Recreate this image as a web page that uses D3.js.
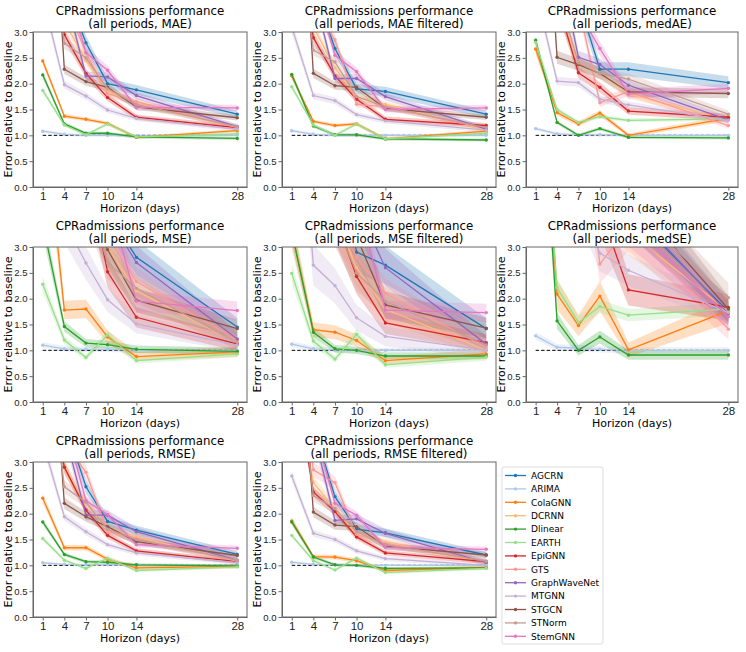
<!DOCTYPE html>
<meta charset="utf-8">
<script src="https://d3js.org/d3.v7.min.js"></script>
<style>
body { margin: 0; background: #fff; }
svg { font-family: "DejaVu Sans", sans-serif; }
.axis path, .axis line { stroke: #666; }
.axis text { fill: #222; }
</style>
<body>
<div id="chart"></div>
<script>

var horizons = [1, 4, 7, 10, 14, 28];
var models = ["AGCRN", "ARIMA", "ColaGNN", "DCRNN", "Dlinear", "EARTH", "EpiGNN",
              "GTS", "GraphWaveNet", "MTGNN", "STGCN", "STNorm", "StemGNN"];
var metrics = ["MAE", "MAE filtered", "medAE", "MSE", "MSE filtered", "medSE", "RMSE", "RMSE filtered"];
var yTicks = [0, 0.5, 1, 1.5, 2, 2.5, 3];

// valeurs par modele (meme ordre que models), une ligne par horizon
var maeVals = [
  [6.0, 3.9, 2.79, 2.00, 1.88, 1.41],
  [1.08, 1.02, 1.00, 1.00, 0.99, 1.00],
  [2.44, 1.37, 1.31, 1.23, 0.96, 1.09],
  [5.0, 3.2, 2.45, 1.85, 1.62, 1.15],
  [2.17, 1.22, 1.04, 1.04, 0.97, 0.94],
  [1.87, 1.20, 1.01, 1.22, 0.97, 1.03],
  [5.5, 2.95, 2.20, 1.73, 1.35, 1.15],
  [6.0, 3.6, 2.60, 1.80, 1.65, 1.15],
  [6.0, 3.8, 2.15, 2.13, 1.77, 1.17],
  [3.68, 1.98, 1.76, 1.49, 1.33, 1.12],
  [9.0, 2.28, 2.04, 1.93, 1.55, 1.34],
  [6.0, 2.78, 2.50, 1.90, 1.60, 1.17],
  [6.0, 4.0, 2.60, 2.26, 1.54, 1.53]
];
var maeFiltVals = [
  [6.0, 3.9, 2.68, 1.90, 1.85, 1.41],
  [1.09, 1.02, 1.00, 1.00, 1.00, 1.00],
  [2.15, 1.27, 1.19, 1.22, 0.93, 1.08],
  [5.0, 3.1, 2.30, 1.75, 1.60, 1.10],
  [2.18, 1.18, 1.01, 1.01, 0.93, 0.91],
  [1.94, 1.20, 1.00, 1.22, 0.93, 1.04],
  [5.5, 2.89, 2.15, 1.70, 1.31, 1.19],
  [6.0, 3.5, 2.85, 1.60, 1.55, 1.13],
  [6.0, 3.8, 2.10, 2.10, 1.75, 1.12],
  [3.1, 1.77, 1.67, 1.40, 1.28, 1.10],
  [9.0, 2.20, 1.96, 1.93, 1.52, 1.35],
  [6.0, 2.65, 2.42, 1.75, 1.55, 1.15],
  [6.0, 4.0, 2.55, 2.23, 1.50, 1.53]
];
var medaeVals = [
  [8.0, 5.0, 3.6, 2.28, 2.28, 2.02],
  [1.13, 1.03, 1.01, 1.01, 1.00, 1.00],
  [2.67, 1.44, 1.22, 1.43, 1.00, 1.33],
  [6.0, 3.5, 2.40, 2.20, 1.80, 1.30],
  [2.84, 1.25, 1.00, 1.13, 0.96, 0.95],
  [2.80, 1.50, 1.25, 1.36, 1.29, 1.32],
  [6.0, 3.6, 2.21, 1.93, 1.47, 1.35],
  [6.0, 4.5, 3.5, 1.63, 1.85, 1.19],
  [7.0, 4.5, 2.51, 2.37, 1.97, 1.30],
  [3.8, 2.05, 2.02, 1.70, 1.59, 1.29],
  [9.0, 2.51, 2.37, 2.20, 1.84, 1.81],
  [7.0, 3.8, 2.40, 2.20, 2.09, 1.41],
  [7.0, 5.0, 3.4, 2.68, 1.80, 1.91]
];
var mseVals = [
  [15, 8, 5, 3.69, 2.80, 1.45],
  [1.10, 1.03, 1.02, 1.02, 1.00, 1.00],
  [5.8, 1.78, 1.80, 1.26, 0.88, 0.97],
  [12, 6, 4, 3.0, 2.15, 1.15],
  [3.46, 1.46, 1.14, 1.11, 1.02, 0.98],
  [2.28, 1.20, 0.86, 1.30, 0.80, 0.93],
  [12, 6, 4.58, 2.52, 1.64, 1.12],
  [12, 6, 4.0, 3.2, 2.33, 1.20],
  [15, 8, 5, 3.6, 2.70, 1.22],
  [6, 3.5, 2.69, 1.98, 1.51, 1.10],
  [15, 6, 4.0, 2.95, 1.97, 1.42],
  [12, 6, 4.0, 2.70, 2.20, 1.15],
  [15, 8, 5, 4.0, 1.95, 1.77]
];
var mseFiltVals = [
  [15, 8, 5, 2.90, 2.65, 1.42],
  [1.12, 1.03, 1.01, 1.00, 1.00, 1.00],
  [3.3, 1.40, 1.35, 1.19, 0.80, 0.93],
  [10, 5, 3.6, 2.6, 1.80, 1.00],
  [3.3, 1.35, 1.03, 1.00, 0.89, 0.89],
  [2.49, 1.18, 0.83, 1.31, 0.72, 0.87],
  [10, 5, 3.6, 2.43, 1.53, 1.15],
  [10, 5, 3.6, 2.8, 2.10, 1.05],
  [15, 8, 5, 3.8, 2.60, 1.12],
  [8, 2.65, 2.25, 1.63, 1.27, 1.00],
  [12, 6, 4, 3.2, 1.88, 1.43],
  [10, 5, 3.5, 2.5, 1.95, 1.10],
  [15, 8, 5, 4, 1.78, 1.73]
];
var medseVals = [
  [20, 10, 8, 6, 3.7, 1.75],
  [1.28, 1.06, 1.04, 1.02, 1.00, 1.00],
  [8, 2.09, 1.48, 2.05, 1.01, 1.77],
  [15, 8, 6, 4.5, 3.3, 1.75],
  [8, 1.57, 1.00, 1.26, 0.91, 0.91],
  [8, 2.21, 1.54, 1.85, 1.68, 1.80],
  [15, 8, 5, 3.75, 2.17, 1.83],
  [15, 8, 6, 2.67, 3.4, 1.41],
  [20, 10, 8, 6, 3.78, 1.71],
  [12, 6, 4, 2.88, 2.55, 1.73],
  [20, 10, 8, 6, 4, 1.80],
  [15, 8, 6, 4.5, 3.78, 2.02],
  [20, 10, 8, 5, 3.5, 1.65]
];
var rmseVals = [
  [6, 3.8, 2.52, 1.85, 1.68, 1.21],
  [1.05, 1.02, 1.01, 1.01, 1.00, 1.00],
  [2.30, 1.34, 1.34, 1.12, 0.95, 0.98],
  [5, 2.9, 2.20, 1.70, 1.55, 1.08],
  [1.84, 1.21, 1.07, 1.06, 1.01, 0.99],
  [1.52, 1.10, 0.94, 1.14, 0.90, 0.97],
  [5, 2.90, 2.07, 1.58, 1.28, 1.07],
  [6, 3.4, 2.80, 1.65, 1.52, 1.08],
  [6, 3.6, 1.97, 1.97, 1.65, 1.10],
  [3.4, 1.94, 1.65, 1.40, 1.24, 1.05],
  [8, 2.20, 1.94, 1.75, 1.46, 1.19],
  [6, 2.52, 2.22, 1.70, 1.50, 1.10],
  [6, 3.8, 2.25, 1.98, 1.40, 1.33]
];
var rmseFiltVals = [
  [6, 3.7, 2.33, 1.70, 1.63, 1.20],
  [1.06, 1.02, 1.01, 1.00, 1.00, 1.00],
  [1.86, 1.17, 1.16, 1.09, 0.90, 0.96],
  [5, 2.6, 2.10, 1.60, 1.45, 1.05],
  [1.84, 1.16, 1.01, 1.00, 0.94, 0.95],
  [1.58, 1.09, 0.91, 1.14, 0.86, 0.94],
  [5, 2.42, 2.04, 1.55, 1.24, 1.07],
  [6, 2.85, 2.60, 1.60, 1.42, 1.08],
  [6, 3.6, 1.87, 1.90, 1.62, 1.05],
  [2.73, 1.62, 1.50, 1.28, 1.13, 1.00],
  [8, 2.03, 1.78, 1.75, 1.37, 1.20],
  [6, 2.35, 2.10, 1.65, 1.40, 1.08],
  [6, 3.7, 2.20, 1.97, 1.35, 1.31]
];

// demi-largeur relative de la bande d'incertitude, par modele
var maeSpread      = [0.05, 0.03, 0.03, 0.04, 0.03, 0.03, 0.04, 0.04, 0.04, 0.04, 0.04, 0.04, 0.04];
var maeFiltSpread  = [0.05, 0.03, 0.03, 0.04, 0.03, 0.03, 0.04, 0.04, 0.04, 0.04, 0.04, 0.04, 0.04];
var medaeSpread    = [0.06, 0.03, 0.04, 0.05, 0.03, 0.03, 0.05, 0.05, 0.05, 0.04, 0.05, 0.05, 0.05];
var mseSpread      = [0.12, 0.05, 0.10, 0.12, 0.07, 0.07, 0.12, 0.12, 0.12, 0.12, 0.12, 0.12, 0.10];
var mseFiltSpread  = [0.14, 0.05, 0.10, 0.14, 0.07, 0.08, 0.14, 0.14, 0.14, 0.15, 0.14, 0.14, 0.10];
var medseSpread    = [0.12, 0.06, 0.14, 0.14, 0.10, 0.07, 0.14, 0.14, 0.14, 0.12, 0.14, 0.14, 0.14];
var rmseSpread     = [0.05, 0.02, 0.04, 0.05, 0.03, 0.03, 0.04, 0.05, 0.05, 0.04, 0.05, 0.05, 0.04];
var rmseFiltSpread = [0.05, 0.02, 0.04, 0.05, 0.03, 0.03, 0.04, 0.05, 0.05, 0.04, 0.05, 0.05, 0.04];

var allVals = [maeVals, maeFiltVals, medaeVals, mseVals, mseFiltVals, medseVals, rmseVals, rmseFiltVals];
var allSpread = [maeSpread, maeFiltSpread, medaeSpread, mseSpread, mseFiltSpread, medseSpread, rmseSpread, rmseFiltSpread];

// tab20
var colors = ["#1f77b4", "#aec7e8", "#ff7f0e", "#ffbb78", "#2ca02c", "#98df8a", "#d62728",
              "#ff9896", "#9467bd", "#c5b0d5", "#8c564b", "#c49c94", "#e377c2"];

var W = 746, H = 652;
var colX = [33, 282, 526];
var colW = [214, 214, 212];
var rowY = [32, 247, 462];
var ph = 155;

var svg = d3.select("#chart").append("svg")
  .attr("width", W).attr("height", H);

metrics.forEach(function(metric, p) {
  var col = p % 3, row = Math.floor(p / 3);
  var pw = colW[col];
  var g = svg.append("g").attr("transform", "translate(" + colX[col] + "," + rowY[row] + ")");

  var x = d3.scaleLinear().domain([1 - 1.35, 28 + 1.35]).range([0, pw]);
  var y = d3.scaleLinear().domain([0, 3]).range([ph, 0]);

  g.append("clipPath").attr("id", "clip" + p)
    .append("rect").attr("width", pw).attr("height", ph);

  var plot = g.append("g").attr("clip-path", "url(#clip" + p + ")");

  var vals = allVals[p], spread = allSpread[p];

  var area = d3.area()
    .x(function(d) { return x(d.h); })
    .y0(function(d) { return y(d.v * (1 - d.s)); })
    .y1(function(d) { return y(d.v * (1 + d.s)); });
  var line = d3.line()
    .x(function(d) { return x(d.h); })
    .y(function(d) { return y(d.v); });

  models.forEach(function(m, i) {
    var pts = horizons.map(function(h, k) { return {h: h, v: vals[i][k], s: spread[i]}; });
    plot.append("path").attr("d", area(pts))
      .attr("fill", colors[i]).attr("fill-opacity", 0.25).attr("stroke", "none");
  });

  // ligne de base
  plot.append("line")
    .attr("x1", x(1)).attr("x2", x(28)).attr("y1", y(1)).attr("y2", y(1))
    .attr("stroke", "#000").attr("stroke-width", 1).attr("stroke-dasharray", "3.5,2");

  models.forEach(function(m, i) {
    var pts = horizons.map(function(h, k) { return {h: h, v: vals[i][k]}; });
    plot.append("path").attr("d", line(pts))
      .attr("fill", "none").attr("stroke", colors[i]).attr("stroke-width", 1.3);
    plot.selectAll(".pt" + i).data(pts).enter().append("circle")
      .attr("cx", function(d) { return x(d.h); })
      .attr("cy", function(d) { return y(d.v); })
      .attr("r", 1.7).attr("fill", colors[i]);
  });

  // axes
  g.append("g").attr("class", "axis")
    .attr("transform", "translate(0," + ph + ")")
    .call(d3.axisBottom(x).tickValues(horizons).tickSize(3.5).tickPadding(1.5).tickSizeOuter(0))
    .selectAll("text").style("font-size", "11.5px");
  g.append("g").attr("class", "axis")
    .call(d3.axisLeft(y).tickValues(yTicks).tickFormat(d3.format(".1f")).tickSize(3.5).tickPadding(2).tickSizeOuter(0))
    .selectAll("text").style("font-size", "9.5px");

  g.append("rect").attr("width", pw).attr("height", ph)
    .attr("fill", "none").attr("stroke", "#666").attr("stroke-width", 1);

  g.append("text").attr("x", pw / 2).attr("y", -17.5)
    .attr("text-anchor", "middle").style("font-size", "11.8px")
    .text("CPRadmissions performance");
  g.append("text").attr("x", pw / 2).attr("y", -4)
    .attr("text-anchor", "middle").style("font-size", "11.8px")
    .text("(all periods, " + metric + ")");

  g.append("text").attr("x", pw / 2).attr("y", ph + 25)
    .attr("text-anchor", "middle").style("font-size", "11px")
    .text("Horizon (days)");
  g.append("text")
    .attr("transform", "translate(-21," + (ph / 2) + ") rotate(-90)")
    .attr("text-anchor", "middle").style("font-size", "11px")
    .text("Error relative to baseline");
});

// legende
var leg = svg.append("g").attr("transform", "translate(502,467)");
leg.append("rect").attr("width", 101).attr("height", 177).attr("rx", 2)
  .attr("fill", "#fff").attr("stroke", "#ddd");
models.forEach(function(m, i) {
  var yy = 8.5 + i * 13.4;
  leg.append("line").attr("x1", 3).attr("x2", 24).attr("y1", yy).attr("y2", yy)
    .attr("stroke", colors[i]).attr("stroke-width", 1.3);
  leg.append("circle").attr("cx", 13.5).attr("cy", yy).attr("r", 1.7).attr("fill", colors[i]);
  leg.append("text").attr("x", 29).attr("y", yy + 3.2)
    .style("font-size", "9px").text(m);
});

</script>
</body>
